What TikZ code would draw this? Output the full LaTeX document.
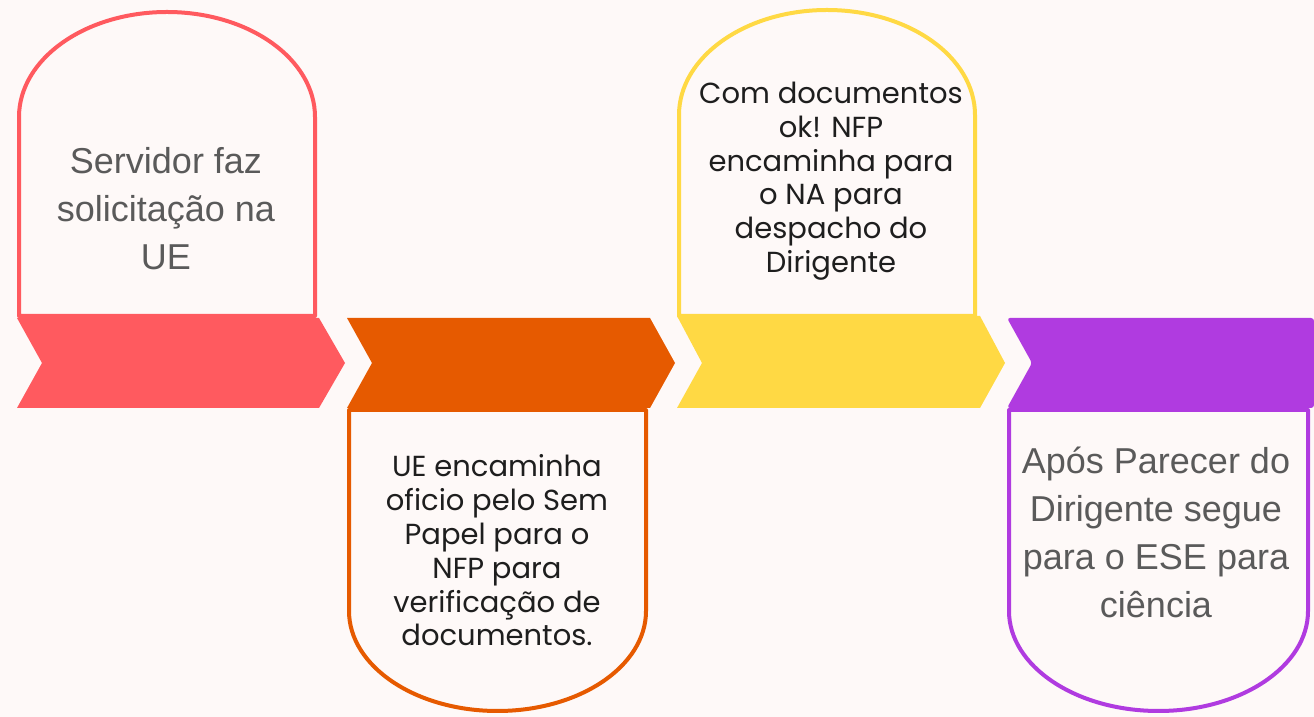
\documentclass[tikz,border=0pt]{standalone}
\usepackage{fontspec}
\setmainfont{Liberation Sans}
\newfontfamily\geofont{Poppins}
\definecolor{bgc}{HTML}{FEF9F8}
\definecolor{cred}{HTML}{FF5A5F}
\definecolor{corange}{HTML}{E65A00}
\definecolor{cyellow}{HTML}{FFD944}
\definecolor{cpurple}{HTML}{B03BE0}
\definecolor{graytext}{HTML}{5A5A5A}
\definecolor{darktext}{HTML}{1E1E1E}
\begin{document}
\begin{tikzpicture}[x=1pt,y=1pt,
  tabbox/.style={line width=4pt, fill=bgc, line join=round},
  graylbl/.style={align=center, anchor=base, text=graytext, inner sep=0pt,
    font=\fontsize{36}{48}\selectfont},
  geolbl/.style={align=center, anchor=base, text=darktext, inner sep=0pt,
    font=\geofont\fontsize{29}{33.8}\selectfont}]
\fill[bgc] (0,0) rectangle (1314,717);
\useasboundingbox (0,0) rectangle (1314,717);
% boxes
\draw[tabbox, draw=cred] (19,401) -- (19,600) arc[start angle=180, end angle=0, x radius=148pt, y radius=105pt] -- (315,401) -- cycle;
\draw[tabbox, draw=cyellow] (679,401) -- (679,602) arc[start angle=180, end angle=0, x radius=148pt, y radius=105pt] -- (975,401) -- cycle;
\draw[tabbox, draw=corange] (349,307) -- (349,106) arc[start angle=180, end angle=360, x radius=148.5pt, y radius=100pt] -- (646,307) -- cycle;
\draw[tabbox, draw=cpurple] (1009,307) -- (1009,106) arc[start angle=180, end angle=360, x radius=149.5pt, y radius=100pt] -- (1308,307) -- cycle;
% chevrons
\fill[cred] (17,399) -- (319,399) -- (345,354) -- (319,309) -- (17,309) -- (42,354) -- cycle;
\fill[corange] (347,399) -- (650,399) -- (675,354) -- (650,309) -- (347,309) -- (372,354) -- cycle;
\fill[cyellow] (677,401) -- (980,401) -- (1005,354) -- (980,309) -- (677,309) -- (702,354) -- cycle;
\fill[cpurple, rounded corners=3pt] (1007,399) -- (1314,399) -- (1314,309) -- (1007,309) -- (1032,354) -- cycle;
% texts (anchor = baseline of the last line)
\node[graylbl] (t1) at (166,447) {Servidor faz\\solicitação na\\UE};
\node[geolbl] (t2) at (497,71) {UE encaminha\\oficio pelo Sem\\Papel para o\\NFP para\\verificação de\\documentos.};
\node[geolbl] (t3) at (831,444.5) {Com documentos\\ok! NFP\\encaminha para\\o NA para\\despacho do\\Dirigente};
\node[graylbl] (t4) at (1156,99) {Após Parecer do\\Dirigente segue\\para o ESE para\\ciência};
\end{tikzpicture}
\end{document}
